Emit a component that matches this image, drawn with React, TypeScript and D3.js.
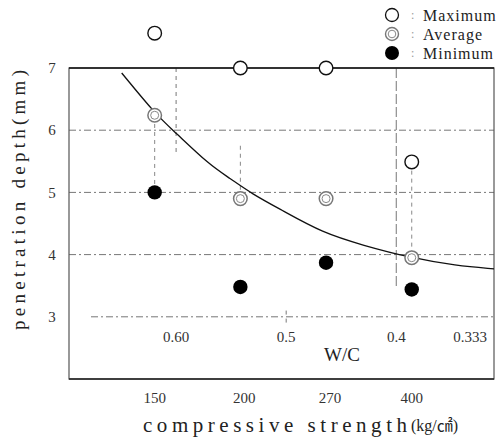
import * as d3 from "d3";

// compressive strength groups (kg/cm2)
const strengths = ["150", "200", "270", "400"];
// penetration depth (mm)
const maximum = [7.56, 7.0, 7.0, 5.49];
const average = [6.24, 4.9, 4.9, 3.95];
const minimum = [5.0, 3.48, 3.87, 3.44];

const yTicks = [3, 4, 5, 6, 7];
const wcValues = [0.6, 0.5, 0.4, 0.333];
const wcLabels = ["0.60", "0.5", "0.4", "0.333"];

// fitted trend, [group position, depth]
const fitCurve: [number, number][] = [
  [-0.385, 6.92],
  [0.02, 6.24],
  [0.23, 5.98],
  [0.64, 5.44],
  [0.875, 5.23],
  [1.13, 4.98],
  [1.49, 4.71],
  [1.96, 4.35],
  [2.43, 4.15],
  [2.98, 3.95],
  [3.52, 3.82],
  [3.96, 3.77],
];

// dashed vertical guides: [position, from, to]
const groupGuides: [number, number, number][] = [
  [0, 6.1, 5.1],
  [1, 5.75, 5.0],
  [3, 5.35, 4.05],
];
const wcGuides: [number, number, number][] = [
  [0.6, 7, 5.65],
  [0.4, 7, 3.45],
  [0.5, 3.1, 2.9],
];

const W = 504;
const H = 440;
const serif = "'Liberation Serif', 'DejaVu Serif', serif";

export default function App() {
  const x = d3.scaleLinear().domain([-1, 3.96]).range([69, 494]);
  const y = d3.scaleLinear().domain([2, 7]).range([379, 68]);
  const wc = d3.scaleLinear().domain([0.6, 0.333]).range([x(0.25), x(3.68)]);

  const line = d3
    .line<[number, number]>()
    .x((d) => x(d[0]))
    .y((d) => y(d[1]))
    .curve(d3.curveBasis);

  const [x0, x1] = x.range();
  const gridDash = "7 3 2 3";

  return (
    <svg
      width={W}
      height={H}
      style={{ position: "absolute", left: 0, top: 0, background: "#fff" }}
      fontFamily={serif}
    >
      {/* horizontal grid */}
      {yTicks
        .filter((t) => t < 7)
        .map((t) => (
          <line
            key={"g" + t}
            x1={t === 3 ? x0 + 22 : x0}
            x2={x1}
            y1={y(t)}
            y2={y(t)}
            stroke="#777"
            strokeWidth={1}
            strokeDasharray={gridDash}
          />
        ))}

      {/* vertical guides */}
      {groupGuides.map(([p, a, b], i) => (
        <line
          key={"vg" + i}
          x1={x(p)}
          x2={x(p)}
          y1={y(a)}
          y2={y(b)}
          stroke="#888"
          strokeDasharray="4 4"
        />
      ))}
      {wcGuides.map(([p, a, b], i) => (
        <line
          key={"vw" + i}
          x1={wc(p)}
          x2={wc(p)}
          y1={y(a)}
          y2={y(b)}
          stroke="#777"
          strokeDasharray={i === 1 ? "10 3" : "4 4"}
        />
      ))}

      {/* frame */}
      <rect
        x={x0}
        y={y(7)}
        width={x1 - x0}
        height={y(2) - y(7)}
        fill="none"
        stroke="#555"
        strokeWidth={1.2}
      />
      <line x1={x0} x2={x1} y1={y(7)} y2={y(7)} stroke="#111" strokeWidth={1.6} />
      <line x1={x0} x2={x1} y1={y(2)} y2={y(2)} stroke="#222" strokeWidth={1.4} />

      {/* fit curve */}
      <path d={line(fitCurve) ?? ""} fill="none" stroke="#111" strokeWidth={1.3} />

      {/* y ticks */}
      {yTicks.map((t) => (
        <text
          key={"yt" + t}
          x={52}
          y={y(t)}
          dy="0.35em"
          textAnchor="middle"
          fontSize={15}
          fill="#333"
        >
          {t}
        </text>
      ))}

      {/* markers */}
      {maximum.map((v, i) => (
        <circle key={"mx" + i} cx={x(i)} cy={y(v)} r={6.8} fill="#fff" stroke="#111" strokeWidth={1.4} />
      ))}
      {average.map((v, i) => (
        <g key={"av" + i}>
          <circle cx={x(i)} cy={y(v)} r={6.8} fill="#fff" stroke="#777" strokeWidth={1.5} />
          <circle cx={x(i)} cy={y(v)} r={4} fill="none" stroke="#888" strokeWidth={1} />
        </g>
      ))}
      {minimum.map((v, i) => (
        <circle key={"mn" + i} cx={x(i)} cy={y(v)} r={7.2} fill="#000" />
      ))}

      {/* W/C axis inside */}
      {wcValues.map((v, i) => (
        <text
          key={"wc" + i}
          x={wc(v)}
          y={342}
          textAnchor="middle"
          fontSize={15}
          fill="#333"
        >
          {wcLabels[i]}
        </text>
      ))}
      <text x={342} y={361} textAnchor="middle" fontSize={19} fill="#222">
        W/C
      </text>

      {/* strength labels */}
      {strengths.map((s, i) => (
        <text
          key={"st" + i}
          x={x(i) + (i === 1 || i === 2 ? 4 : 0)}
          y={403}
          textAnchor="middle"
          fontSize={15}
          fill="#333"
        >
          {s}
        </text>
      ))}
      <text x={143} y={432} fontSize={21} fill="#222" textLength={264} lengthAdjust="spacing">
        compressive strength
      </text>
      <text x={411} y={431} fontSize={16} fill="#222">
        (kg/
        <tspan fontFamily="'Noto Sans CJK KR', sans-serif" fontSize={16}>
          ㎠
        </tspan>
        )
      </text>

      {/* y label */}
      <text
        transform="translate(25,200) rotate(-90)"
        textAnchor="middle"
        fontSize={19}
        fill="#222"
        textLength={260}
        lengthAdjust="spacing"
      >
        penetration depth(mm)
      </text>

      {/* legend */}
      <g>
        <circle cx={392} cy={15} r={6.5} fill="#fff" stroke="#111" strokeWidth={1.3} />
        <circle cx={392} cy={34} r={6.5} fill="#fff" stroke="#777" strokeWidth={1.4} />
        <circle cx={392} cy={34} r={3.8} fill="none" stroke="#888" strokeWidth={1} />
        <circle cx={392} cy={53} r={7} fill="#000" />
        {["Maximum", "Average", "Minimum"].map((t, i) => (
          <g key={"lg" + t}>
            <text x={411} y={15 + i * 19} dy="0.35em" fontSize={12} fill="#999">
              :
            </text>
            <text
              x={423}
              y={15 + i * 19}
              dy="0.35em"
              fontSize={16}
              fill="#222"
              letterSpacing={1}
            >
              {t}
            </text>
          </g>
        ))}
      </g>
    </svg>
  );
}
